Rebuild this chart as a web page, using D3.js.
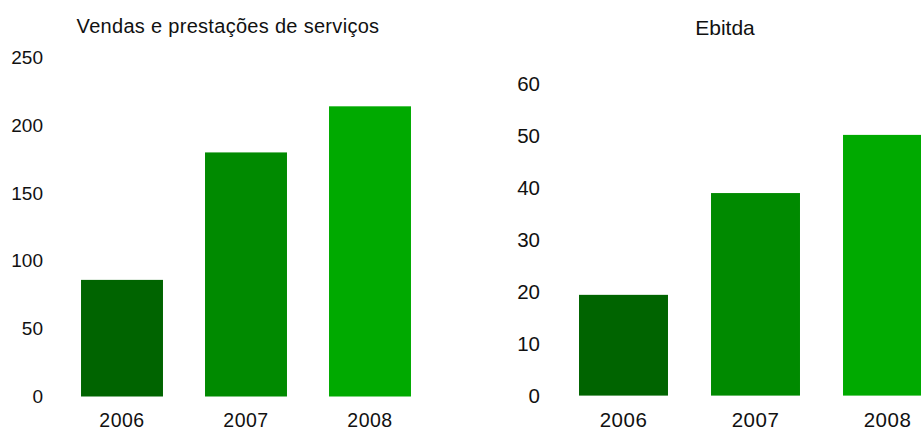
<!DOCTYPE html>
<html>
<head>
<meta charset="utf-8">
<script src="https://cdn.jsdelivr.net/npm/d3@7"></script>
<style>
  html, body { margin: 0; padding: 0; background: #fff; }
  svg text { font-family: Arial, "Liberation Sans", sans-serif; fill: #111; }
</style>
</head>
<body>
<svg id="chart" width="921" height="428"></svg>
<script>
const years = ["2006", "2007", "2008"];
const barColors = ["#006400", "#008a00", "#00aa00"];

const salesTitle = "Vendas e prestações de serviços";
const salesValues = [86, 180, 214];
const salesTicks = [0, 50, 100, 150, 200, 250];

const ebitdaTitle = "Ebitda";
const ebitdaValues = [19.4, 39, 50.2];
const ebitdaTicks = [0, 10, 20, 30, 40, 50, 60];

const svg = d3.select("#chart");

function panel(cfg) {
  const g = svg.append("g");
  const x = d3.scaleBand().domain(years).range(cfg.xRange)
    .paddingInner(cfg.pad).paddingOuter(cfg.pad / 2);
  const y = d3.scaleLinear().domain(cfg.yDomain).range(cfg.yRange);

  g.selectAll("rect.bar").data(cfg.values).join("rect")
    .attr("class", "bar")
    .attr("x", (d, i) => x(years[i]))
    .attr("width", x.bandwidth())
    .attr("y", d => y(d))
    .attr("height", d => y(0) - y(d))
    .attr("fill", (d, i) => barColors[i]);

  const yAxis = d3.axisLeft(y).tickValues(cfg.ticks).tickSize(0).tickPadding(0);
  const ya = g.append("g").attr("transform", `translate(${cfg.tickX},0)`).call(yAxis);
  ya.select(".domain").remove();
  ya.selectAll("text").style("font-size", cfg.tickFont + "px")
    .style("font-family", "Arial, 'Liberation Sans', sans-serif").attr("fill", "#111");

  const xAxis = d3.axisBottom(x).tickSize(0).tickPadding(0);
  const xa = g.append("g").attr("transform", `translate(0,${cfg.labelY})`).call(xAxis);
  xa.select(".domain").remove();
  xa.selectAll("text").attr("dy", 0).style("font-size", cfg.labelFont + "px")
    .style("font-family", "Arial, 'Liberation Sans', sans-serif")
    .style("letter-spacing", "0.5px").attr("fill", "#111");

  g.append("text")
    .attr("x", cfg.titleX).attr("y", cfg.titleY)
    .attr("text-anchor", "middle")
    .style("font-size", cfg.titleFont + "px")
    .style("letter-spacing", cfg.titleSpacing + "px")
    .text(cfg.title);
}

panel({
  values: salesValues, ticks: salesTicks, title: salesTitle,
  xRange: [60, 432], pad: 0.339,
  yDomain: [0, 250], yRange: [396.5, 57.5],
  tickX: 43, tickFont: 19, labelY: 427, labelFont: 19.5,
  titleX: 228, titleY: 33, titleFont: 20, titleSpacing: 0.3
});

panel({
  values: ebitdaValues, ticks: ebitdaTicks, title: ebitdaTitle,
  xRange: [557.5, 953.5], pad: 0.326,
  yDomain: [0, 60], yRange: [395.6, 84],
  tickX: 540, tickFont: 20.5, labelY: 427, labelFont: 20.5,
  titleX: 725, titleY: 35, titleFont: 21, titleSpacing: 0
});
</script>
</body>
</html>
